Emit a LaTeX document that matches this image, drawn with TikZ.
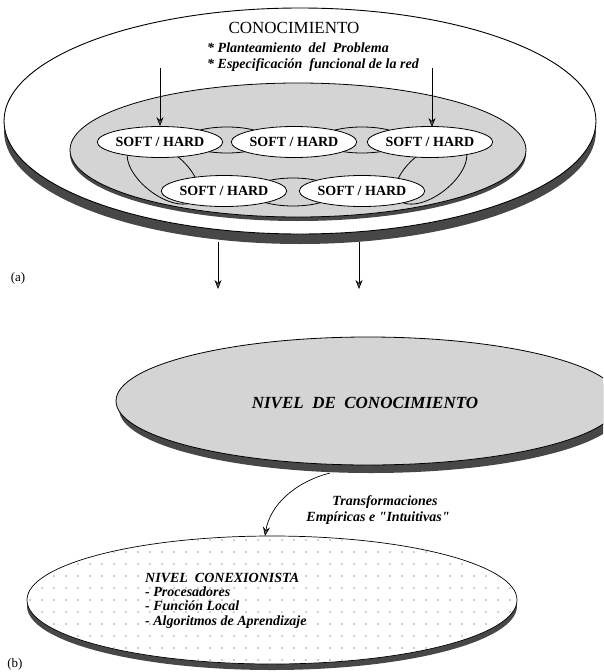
\documentclass[tikz,border=0pt]{standalone}
\usepackage{fontspec}
\setmainfont{Liberation Serif}
\usetikzlibrary{shapes.geometric,arrows.meta}
\begin{document}
\begin{tikzpicture}[x=1pt,y=-1pt,
  shadowfill/.style={fill=black!72},
  disk/.style={fill=white,draw=black,line width=0.9pt},
  grayarea/.style={fill=black!17,draw=black,line width=0.8pt},
  sh/.style={ellipse,draw=black,line width=0.8pt,fill=white,minimum width=112pt,minimum height=31pt,inner sep=0pt,font=\fontsize{14}{16}\selectfont\bfseries},
  arr/.style={line width=0.7pt,-{Stealth[length=9pt,width=7pt,inset=3pt,fill=black!60]}},
  lbl/.style={inner sep=0pt,font=\fontsize{14}{16}\selectfont\bfseries\itshape},
  bigit/.style={inner sep=0pt,font=\fontsize{17}{20}\selectfont\bfseries\itshape},
  tag/.style={inner sep=0pt,font=\fontsize{13}{15}\selectfont}
]
\useasboundingbox (0,0) rectangle (603,672);
\clip (0,0) rectangle (603,672);

% ---------------- Part (a) ----------------
\fill[shadowfill] (300,131) ellipse [x radius=296pt, y radius=113pt];
\draw[disk] (300,121) ellipse [x radius=296pt, y radius=113pt];
\fill[shadowfill] (298,154) ellipse [x radius=228pt, y radius=67pt];
\draw[grayarea] (298,150) ellipse [x radius=228pt, y radius=67pt];

% links between processors
\draw[grayarea] (227,140) ellipse [x radius=42pt, y radius=13pt];
\draw[grayarea] (362,140) ellipse [x radius=42pt, y radius=13pt];
\draw[grayarea] (293,192) ellipse [x radius=42pt, y radius=14pt];
\draw[grayarea,rotate around={-38:(163,173)}] (163,173) ellipse [x radius=42pt, y radius=22pt];
\draw[grayarea,rotate around={38:(431,173)}] (431,173) ellipse [x radius=42pt, y radius=22pt];

\node[sh] (t1) at (160,142) {SOFT / HARD};
\node[sh] (t2) at (294,142) {SOFT / HARD};
\node[sh] (t3) at (430,142) {SOFT / HARD};
\node[sh] (b1) at (224,191) {SOFT / HARD};
\node[sh] (b2) at (362,191) {SOFT / HARD};

\node[inner sep=0pt,font=\fontsize{17}{19}\selectfont] (kn) at (294,28) {CONOCIMIENTO};
\node[lbl,anchor=base west] (p1) at (207,52) {* Planteamiento\ \ del\ \ Problema};
\node[lbl,anchor=base west] (p2) at (207,68) {* Especificación\ \ funcional de la red};

\coordinate (a1s) at (160,68);
\coordinate (a2s) at (432,68);
\coordinate (a2e) at (432,127);
\draw[arr] (a1s) -- (t1.north);
\draw[arr] (a2s) -- (a2e);

\coordinate (d1s) at (218,242);
\coordinate (d1e) at (218,289);
\coordinate (d2s) at (359,242);
\coordinate (d2e) at (359,289);
\draw[arr] (d1s) -- (d1e);
\draw[arr] (d2s) -- (d2e);

\node[tag] (la) at (18,278) {(a)};

% ---------------- Part (b) ----------------
\fill[shadowfill] (371,409) ellipse [x radius=252pt, y radius=64pt];
\draw[grayarea] (368,401) ellipse [x radius=252pt, y radius=64pt];
\node[bigit] (nk) at (365,403) {NIVEL\ \ DE\ \ CONOCIMIENTO};

\fill[shadowfill] (272,606) ellipse [x radius=245pt, y radius=64pt];
\draw[disk,line width=0.7pt] (272,600) ellipse [x radius=245pt, y radius=64pt];
\begin{scope}
  \clip (272,600) ellipse [x radius=244pt, y radius=63pt];
  \foreach \i in {0,...,42} {
    \foreach \j in {0,...,11} {
      \fill[black!80] (30+\i*12,540+\j*12) circle (0.65pt);
    }
  }
\end{scope}

\node[lbl,anchor=base west] (c1) at (145,582) {NIVEL\ \ CONEXIONISTA};
\node[lbl,anchor=base west] (c2) at (145,596) {- Procesadores};
\node[lbl,anchor=base west] (c3) at (145,610) {- Función Local};
\node[lbl,anchor=base west] (c4) at (145,625) {- Algoritmos de Aprendizaje};

\coordinate (ts) at (330,473);
\coordinate (te) at (265,536);
\draw[arr] (ts) .. controls (295,482) and (270,505) .. (te);
\node[lbl] (tr1) at (385,502) {Transformaciones};
\node[lbl] (tr2) at (378,518) {Empíricas e \textquotedbl Intuitivas\textquotedbl};

\node[tag] (lb) at (15,664) {(b)};
\end{tikzpicture}
\end{document}
